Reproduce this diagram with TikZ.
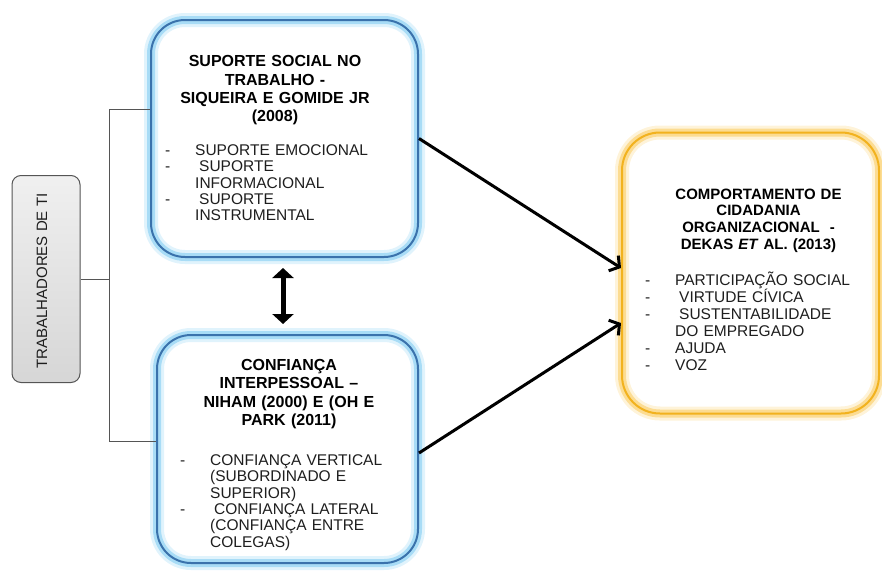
\documentclass[tikz,border=0pt]{standalone}
\usepackage{fontspec}
\setmainfont{Liberation Sans}
\usetikzlibrary{arrows.meta}

\definecolor{boxblue}{HTML}{3A72AC}
\definecolor{glowblue}{HTML}{9AD6F4}
\definecolor{boxgold}{HTML}{F2B21E}
\definecolor{glowgold}{HTML}{FBD680}
\definecolor{linegray}{HTML}{555555}
\definecolor{bodytext}{HTML}{1E1E1E}

\tikzset{
  panel/.style={rectangle, rounded corners=34pt, line width=2pt, inner sep=0pt},
  bluepanel/.style={panel, draw=boxblue,
    preaction={draw=glowblue, line width=14pt, opacity=0.3},
    preaction={draw=glowblue, line width=8pt, opacity=0.8}},
  goldpanel/.style={panel, rounded corners=38pt, draw=boxgold,
    preaction={draw=glowgold, line width=14pt, opacity=0.3},
    preaction={draw=glowgold, line width=8pt, opacity=0.8}},
  graypanel/.style={rectangle, rounded corners=9pt, draw=linegray, line width=1pt,
    top color=gray!12, bottom color=gray!32, inner sep=0pt},
  heading/.style={anchor=base, align=center, inner sep=0pt, text width=240pt,
    font=\bfseries\fontsize{16}{18.3}\selectfont},
  itemlist/.style={anchor=base west, align=left, inner sep=0pt, text width=220pt,
    text=bodytext, font=\fontsize{15.5}{16.4}\selectfont},
  bracket/.style={draw=linegray, line width=1pt},
  flow/.style={draw=black, line width=3pt,
    -{Straight Barb[length=7pt, width=18pt]}},
  mutual/.style={draw=black, line width=5pt,
    {Triangle[length=10pt, width=21pt]}-{Triangle[length=10pt, width=21pt]}}
}

\begin{document}
\begin{tikzpicture}[x=1pt, y=-1pt]
\useasboundingbox (0,0) rectangle (882,570);

% panels
\node[graypanel, minimum width=68pt, minimum height=207pt] (trab) at (46,279) {};
\node[bluepanel, minimum width=267pt, minimum height=237pt] (suporte) at (284.5,138.5) {};
\node[bluepanel, minimum width=261pt, minimum height=228pt] (confianca) at (287.5,449) {};
\node[goldpanel, minimum width=257pt, minimum height=281pt] (comport) at (750.5,273) {};

% rotated label of the left panel
\node[rotate=90, inner sep=0pt, font=\fontsize{15}{17}\selectfont, text=bodytext]
  (trabtext) at (42,281) {TRABALHADORES DE TI};

% top panel text
\node[heading] (suptitle) at (275,66.7)
  {SUPORTE SOCIAL NO\\TRABALHO -\\SIQUEIRA E GOMIDE JR\\(2008)};
\node[itemlist, text width=20pt] (supdash) at (165,155.3) {-\\-\\\mbox{}\\-};
\node[itemlist] (supitems) at (195,155.3)
  {SUPORTE EMOCIONAL\\\hspace*{4pt}SUPORTE\\INFORMACIONAL\\\hspace*{4pt}SUPORTE\\INSTRUMENTAL};

% bottom panel text
\node[heading, font=\bfseries\fontsize{16}{18.5}\selectfont] (conftitle) at (289,370)
  {CONFIANÇA\\INTERPESSOAL –\\NIHAM (2000) E (OH E\\PARK (2011)};
\node[itemlist, text width=20pt] (confdash) at (180,465.3) {-\\\mbox{}\\\mbox{}\\-};
\node[itemlist] (confitems) at (210,465.3)
  {CONFIANÇA VERTICAL\\(SUBORDINADO E\\SUPERIOR)\\\hspace*{4pt}CONFIANÇA LATERAL\\(CONFIANÇA ENTRE\\COLEGAS)};

% right panel text
\node[heading, font=\bfseries\fontsize{15}{16.7}\selectfont] (comptitle) at (758.5,199)
  {COMPORTAMENTO DE\\CIDADANIA\\ORGANIZACIONAL~~-\\DEKAS \textit{ET} AL. (2013)};
\node[itemlist, text width=20pt, font=\fontsize{15.5}{17.1}\selectfont] (compdash) at (645,285)
  {-\\-\\-\\\mbox{}\\-\\-};
\node[itemlist, font=\fontsize{15.5}{17.1}\selectfont] (compitems) at (675,285)
  {PARTICIPAÇÃO SOCIAL\\\hspace*{4pt}VIRTUDE CÍVICA\\\hspace*{4pt}SUSTENTABILIDADE\\DO EMPREGADO\\AJUDA\\VOZ};

% bracket joining the workers to both constructs
\coordinate (brtop) at (109,109);
\coordinate (brbot) at (109,441);
\draw[bracket] (suporte.west |- brtop) -- (brtop) -- (brbot) -- (confianca.west |- brbot);
\draw[bracket] (trab.east) -- (trab.east -| brtop);

% influence arrows
\draw[flow] (suporte.east) -- ([yshift=5pt]comport.west);
\draw[flow] ([yshift=-4pt]confianca.east) -- ([yshift=-50pt]comport.west);

% mutual relation between the two constructs
\coordinate (mtop) at (283,268);
\coordinate (mbot) at (283,324);
\draw[mutual] (mtop) -- (mbot);
\end{tikzpicture}
\end{document}
